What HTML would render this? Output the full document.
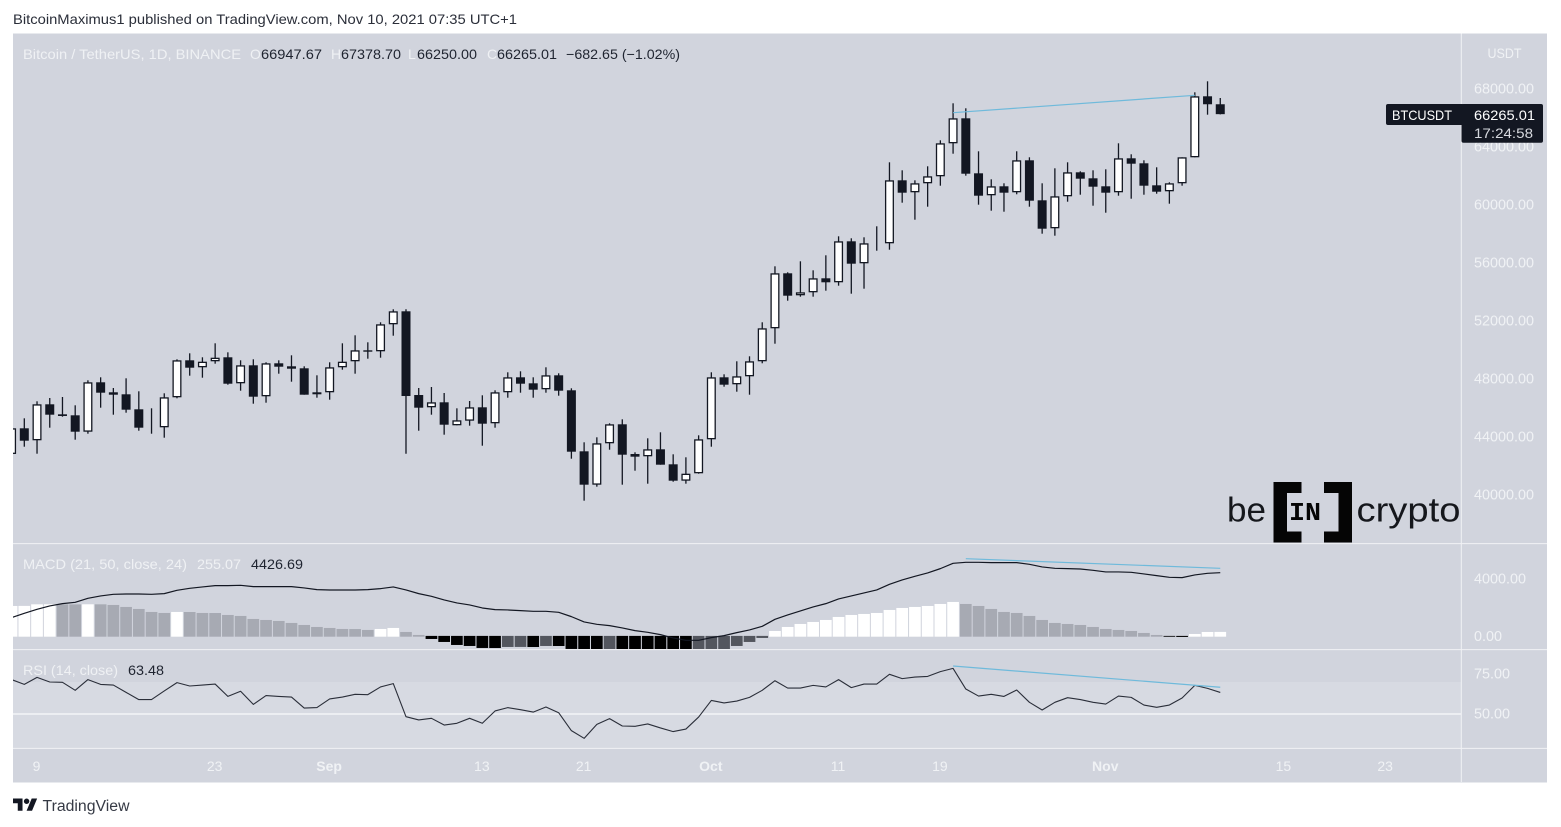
<!DOCTYPE html>
<html lang="en">
<head>
<meta charset="utf-8">
<title>BTCUSDT chart</title>
<style>
html,body{margin:0;padding:0;background:#fff;width:1561px;height:827px;overflow:hidden}
svg{display:block;font-family:"Liberation Sans",Arial,sans-serif}
</style>
</head>
<body>
<svg id="chart" xmlns="http://www.w3.org/2000/svg" width="1561" height="827" viewBox="0 0 1561 827">
  <defs>
    <clipPath id="clip-main"><rect x="13" y="34" width="1448" height="509"/></clipPath>
    <clipPath id="clip-macd"><rect x="13" y="544.5" width="1448" height="104.5"/></clipPath>
    <clipPath id="clip-rsi"><rect x="13" y="650.5" width="1448" height="97.5"/></clipPath>
  </defs>
  <text x="13" y="24" font-size="14" fill="#2a2e39" textLength="504" lengthAdjust="spacingAndGlyphs">BitcoinMaximus1 published on TradingView.com, Nov 10, 2021 07:35 UTC+1</text>
  <rect x="13" y="33.5" width="1534" height="749" fill="#d1d4dd"/>
  <rect id="rsiBand" x="13" y="682" width="1448" height="66" fill="#d7dae2"/>
  <line id="rsiMid" x1="13" x2="1461" y1="714" y2="714" stroke="#f3f4f7" stroke-width="1.6"/>
  <line x1="13" x2="1547" y1="543.6" y2="543.6" stroke="#f1f2f5" stroke-width="1"/>
  <line x1="13" x2="1547" y1="649.6" y2="649.6" stroke="#f1f2f5" stroke-width="1"/>
  <line x1="13" x2="1547" y1="748.4" y2="748.4" stroke="#f1f2f5" stroke-width="1"/>
  <line x1="1461.3" x2="1461.3" y1="33.5" y2="782" stroke="#f1f2f5" stroke-width="1"/>
  <g id="macdHist" clip-path="url(#clip-macd)"></g>
  <g id="macdLine" clip-path="url(#clip-macd)"></g>
  <g id="rsiLine" clip-path="url(#clip-rsi)"></g>
  <g id="candles" clip-path="url(#clip-main)"></g>
  <g id="trends"></g>
  <g id="priceAxis"></g>
  <g id="timeAxis"></g>

  <text x="1487.5" y="58" font-size="14" fill="#f0f2f5" textLength="34" lengthAdjust="spacingAndGlyphs">USDT</text>

  <g font-size="14">
    <text x="23" y="59" fill="#eff1f4" textLength="218" lengthAdjust="spacingAndGlyphs">Bitcoin / TetherUS, 1D, BINANCE</text>
    <text x="250" y="59" fill="#eff1f4">O</text>
    <text x="261" y="59" fill="#1f2430" textLength="61" lengthAdjust="spacingAndGlyphs">66947.67</text>
    <text x="331" y="59" fill="#eff1f4">H</text>
    <text x="341" y="59" fill="#1f2430" textLength="60" lengthAdjust="spacingAndGlyphs">67378.70</text>
    <text x="408" y="59" fill="#eff1f4">L</text>
    <text x="417" y="59" fill="#1f2430" textLength="60" lengthAdjust="spacingAndGlyphs">66250.00</text>
    <text x="487" y="59" fill="#eff1f4">C</text>
    <text x="497" y="59" fill="#1f2430" textLength="60" lengthAdjust="spacingAndGlyphs">66265.01</text>
    <text x="566" y="59" fill="#1f2430" textLength="114" lengthAdjust="spacingAndGlyphs">−682.65 (−1.02%)</text>
  </g>
  <g font-size="14">
    <text x="23" y="569" fill="#eff1f4" textLength="164" lengthAdjust="spacingAndGlyphs">MACD (21, 50, close, 24)</text>
    <text x="197" y="569" fill="#eff1f4" textLength="44" lengthAdjust="spacingAndGlyphs">255.07</text>
    <text x="251" y="569" fill="#1f2430" textLength="52" lengthAdjust="spacingAndGlyphs">4426.69</text>
  </g>
  <g font-size="14">
    <text x="23" y="675" fill="#eff1f4" textLength="95" lengthAdjust="spacingAndGlyphs">RSI (14, close)</text>
    <text x="128" y="675" fill="#1f2430" textLength="36" lengthAdjust="spacingAndGlyphs">63.48</text>
  </g>

  <g>
    <rect x="1386" y="104" width="78" height="21" rx="2" fill="#131722"/>
    <rect x="1461.5" y="104" width="81.5" height="38.7" rx="2" fill="#131722"/>
    <text x="1392" y="120" font-size="14" fill="#fff" textLength="60" lengthAdjust="spacingAndGlyphs">BTCUSDT</text>
    <text x="1474" y="120" font-size="14" fill="#fff" textLength="61" lengthAdjust="spacingAndGlyphs">66265.01</text>
    <text x="1474" y="138" font-size="14" fill="#d6d8de" textLength="59" lengthAdjust="spacingAndGlyphs">17:24:58</text>
  </g>

  <g>
    <text x="1227" y="521.5" font-size="34" fill="#15171c" textLength="39" lengthAdjust="spacingAndGlyphs">be</text>
    <path d="M1273.5 482h28v11h-14.5v38.5h14.500v11h-28z" fill="#050505"/>
    <path d="M1352 482h-28v11h14.500v38.500h-14.500v11h28z" fill="#050505"/>
    <text x="1289" y="520" font-size="26" font-weight="700" font-family="Liberation Mono, monospace" fill="#050505" textLength="32" lengthAdjust="spacingAndGlyphs">IN</text>
    <text x="1356.500" y="521.5" font-size="34" fill="#15171c" textLength="104" lengthAdjust="spacingAndGlyphs">crypto</text>
  </g>

  <g>
    <g transform="translate(13 795.8) scale(0.68)" fill="#131722">
      <path d="M14 22H7V11H0V4h14v18zM28 22h-8l7.500-18h8L28 22z"/>
      <circle cx="20" cy="8" r="4"/>
    </g>
    <text x="42.500" y="811" font-size="15.500" fill="#363a45" textLength="87" lengthAdjust="spacingAndGlyphs">TradingView</text>
  </g>
</svg>

<script>
var opens = [
42830,44600,43773,46255,45565,45496,44365,47773,47083,46945,
45910,44690,44669,46738,49290,48807,49221,49497,47703,48945,
46807,49083,48876,48738,46945,47083,48807,49221,49979,49910,
51772,52669,46896,46048,46393,44807,45124,46048,44945,47083,
48117,47703,47290,48255,47221,43013,40711,43566,44876,42827,
42669,43152,42117,40986,41497,43841,48117,47634,48186,49221,
51496,55290,53772,53979,54945,54669,57496,55979,57379,57358,
61703,60876,61497,61979,64255,65979,62186,60669,61290,60876,
63083,60324,58393,60600,62255,61841,61290,60876,63221,62876,
61358,60945,61497,63290,67497,66947.67];
var highs = [
44760,45289,46462,46690,46759,46186,47911,48117,47380,48048,
47152,45979,47014,49359,49772,49497,50462,49841,49290,49359,
49152,49290,49634,48876,48255,49152,50462,51014,50531,51910,
52807,52807,47380,47448,47035,45979,46483,46876,47221,48462,
48531,48117,48807,48393,47359,43635,43979,44945,45220,42945,
43910,44324,42807,42600,44117,48462,48324,49221,49566,51910,
55772,55358,56117,55496,56531,57841,57704,57772,58531,62945,
62393,61703,62669,64462,67014,66669,63703,61772,61497,63703,
63290,61497,62531,62945,62324,62393,62462,64255,63497,63083,
62600,61566,63290,67772,68531,67378.70];
var lows = [
42690,43331,42848,44642,45400,43814,44227,46021,45538,45676,
44434,44227,43952,46669,48228,48090,49055,47606,47193,46297,
46366,48366,47814,46917,46710,46573,48641,48366,49400,49469,
50986,42848,44434,45538,44159,44807,44779,43400,44642,46710,
47055,46710,47055,46848,42503,39607,40573,43124,40711,41676,
40780,42090,40917,40780,41469,43331,47469,47124,46917,49083,
50434,53400,53676,53676,54090,54435,53883,54228,56848,56917,
60159,58986,59883,61331,63538,62021,60021,59607,59538,60738,
59883,58021,57883,60228,60710,59952,59469,60641,60434,60710,
60779,60090,61331,63290,66228,66250];
var closes = [
44600,43745,46255,45538,45449,44365,47773,47055,46917,45883,
44642,44642,46738,49290,48779,49193,49469,47675,48945,46779,
49083,48848,48710,46917,47083,48807,49193,49979,49883,51772,
52669,46827,46021,46393,44848,45151,46048,44917,47083,48117,
47675,47262,48255,47193,42986,40711,43566,44876,42779,42642,
43152,42090,40986,41469,43841,48117,47607,48186,49221,51496,
55290,53745,53979,54945,54669,57496,55952,57358,57310,61703,
60848,61497,61979,64255,65979,62158,60641,61290,60848,63083,
60297,58365,60600,62255,61814,61262,60848,63221,62848,61331,
60917,61497,63290,67497,66947.67,66265.01];
var macdHistValues = [
2110,2115,2226,2230,2225,2220,2228,2225,2180,2041,
1902,1693,1623,1693,1690,1623,1620,1484,1415,1206,
1136,1067,928,788,649,580,510,505,441,510,
580,301,93,-186,-394,-603,-673,-812,-815,-742,
-740,-745,-673,-675,-881,-900,-920,-900,-920,-930,
-940,-950,-960,-970,-950,-900,-885,-673,-394,-116,
371,649,858,997,1136,1345,1484,1554,1623,1832,
1971,2041,2110,2249,2389,2249,2110,1902,1693,1623,
1415,1136,928,858,788,649,510,441,371,232,
93,-30,-45,162,301,305];
var macdValues = [
1299,1600,1878,2110,2273,2365,2644,2806,2922,2945,
2945,2922,2968,3200,3339,3432,3525,3525,3548,3455,
3455,3455,3455,3363,3247,3223,3223,3223,3247,3316,
3432,3223,2968,2783,2528,2319,2180,1971,1855,1832,
1786,1739,1739,1670,1368,997,835,742,580,394,
278,116,-116,-278,-278,-93,46,255,441,696,
1183,1484,1762,2041,2273,2597,2806,3015,3223,3618,
3919,4174,4406,4708,5079,5148,5148,5125,5125,5125,
5009,4824,4731,4708,4684,4592,4476,4476,4452,4337,
4221,4105,4081,4267,4383,4426.69];
var rsiValues = [
71.5,68.5,72.9,70.0,69.8,64.8,71.5,68.5,68.1,63.5,
59.0,59.0,64.4,69.6,67.5,68.1,68.7,61.0,64.2,56.0,
61.5,61.0,60.6,53.7,54.0,59.4,60.6,62.3,62.1,66.9,
69.0,48.3,46.3,47.3,43.1,44.2,47.3,44.2,51.9,54.0,
52.7,51.2,54.4,50.8,39.6,34.8,43.5,47.1,42.5,42.3,
43.8,41.3,39.0,40.6,48.1,58.5,56.9,58.1,60.4,64.8,
70.8,66.2,66.2,67.9,66.9,71.5,66.5,68.7,68.7,74.8,
72.1,73.1,73.5,76.5,78.5,65.6,61.2,62.3,61.0,65.0,
57.3,52.5,57.3,60.2,59.0,57.3,56.2,61.2,60.4,55.6,
54.2,55.6,60.0,67.9,66.0,63.48];
var priceTicks = [68000,64000,60000,56000,52000,48000,44000,40000];
var macdTicks = [4000,0];
var rsiTicks = [75,50];
var timeLabels = ['9','23','Sep','13','21','Oct','11','19','Nov','15','23'];
var timeBarIndex = [2,16,25,37,45,55,65,73,86,100,108];
var priceTrendBars = [74,93];
var priceTrendValues = [66366,67565];
var macdTrendBars = [75,95];
var macdTrendValues = [5398,4730];
var rsiTrendBars = [74,95];
var rsiTrendValues = [80,66.7];

function xAt(i){return 11.58+12.723*i;}
function priceY(p){return 89+(68000-p)*0.0145;}
function macdY(v){return 636.3-v*0.014375;}
function rsiY(v){return 714-(v-50)*1.6;}

var NS='http://www.w3.org/2000/svg';
function make(parent,tag,attrs){
  var el=document.createElementNS(NS,tag);
  for(var k in attrs){el.setAttribute(k,attrs[k]);}
  parent.appendChild(el);
  return el;
}

var candleGroup=document.getElementById('candles');
opens.forEach(function(o,i){
  var c=closes[i],up=c>=o,cx=xAt(i);
  var top=priceY(Math.max(o,c)),bot=priceY(Math.min(o,c));
  var g=make(candleGroup,'g',{});
  
  
  var wick=make(g,'line',{x1:cx,x2:cx,y1:priceY(highs[i]),y2:priceY(lows[i]),stroke:'#131722','stroke-width':1.3});
  
  
  var sw=1.3;
  var body=make(g,'rect',{x:cx-3.85,width:7.7,y:top+sw/2,height:Math.max(0,bot-top-sw),fill:up?'#ffffff':'#131722',stroke:'#131722','stroke-width':sw});
  
  
});

var histGroup=document.getElementById('macdHist');
macdHistValues.forEach(function(v,i){
  var prev=i>0?macdHistValues[i-1]:v-1;
  var rising=v>prev;
  var fill=v>=0?(rising?'#ffffff':'#a7aab3'):(rising?'#53565e':'#000000');
  var y0=macdY(0)+(v>=0?0.4:-0.4),y1=macdY(v);
  var bar=make(histGroup,'rect',{x:xAt(i)-5.85,width:11.7,y:Math.min(y0,y1),height:Math.abs(y1-y0),fill:fill});
  
  
});

function polyPoints(values,yFn){
  return values.map(function(v,i){return xAt(i).toFixed(2)+','+yFn(v).toFixed(2);}).join(' ');
}
var macdPoly=make(document.getElementById('macdLine'),'polyline',{points:polyPoints(macdValues,macdY),fill:'none',stroke:'#131722','stroke-width':1.2,'stroke-linejoin':'round'});


var rsiPoly=make(document.getElementById('rsiLine'),'polyline',{points:polyPoints(rsiValues,rsiY),fill:'none',stroke:'#2a2e39','stroke-width':1.1,'stroke-linejoin':'round'});



var trendGroup=document.getElementById('trends');
var t1=make(trendGroup,'line',{x1:xAt(priceTrendBars[0]),x2:xAt(priceTrendBars[1]),y1:priceY(priceTrendValues[0]),y2:priceY(priceTrendValues[1]),stroke:'#6fbadb','stroke-width':1.2});


var t2=make(trendGroup,'line',{x1:xAt(macdTrendBars[0]),x2:xAt(macdTrendBars[1]),y1:macdY(macdTrendValues[0]),y2:macdY(macdTrendValues[1]),stroke:'#6fbadb','stroke-width':1.2});


var t3=make(trendGroup,'line',{x1:xAt(rsiTrendBars[0]),x2:xAt(rsiTrendBars[1]),y1:rsiY(rsiTrendValues[0]),y2:rsiY(rsiTrendValues[1]),stroke:'#6fbadb','stroke-width':1.2});



var axisGroup=document.getElementById('priceAxis');
function axisLabel(text,y){
  var t=make(axisGroup,'text',{x:1474,y:y+4.6,'font-size':14.4,fill:'#f0f2f5'});
  t.textContent=text;
  return t;
}
priceTicks.forEach(function(p){
  var t=axisLabel(p.toFixed(2),priceY(p));
  
  
});
macdTicks.forEach(function(v){
  var t=axisLabel(v.toFixed(2),macdY(v));
  
  
});
rsiTicks.forEach(function(v){
  var t=axisLabel(v.toFixed(2),rsiY(v));
  
  
});

var timeGroup=document.getElementById('timeAxis');
timeLabels.forEach(function(label,i){
  var bold=isNaN(parseInt(label,10));
  var t=make(timeGroup,'text',{x:xAt(timeBarIndex[i])-0.5,y:771,'font-size':14,'text-anchor':'middle',fill:'#f0f2f5','font-weight':bold?'700':'400'});
  t.textContent=label;
  
  
});
</script>
</body>
</html>
